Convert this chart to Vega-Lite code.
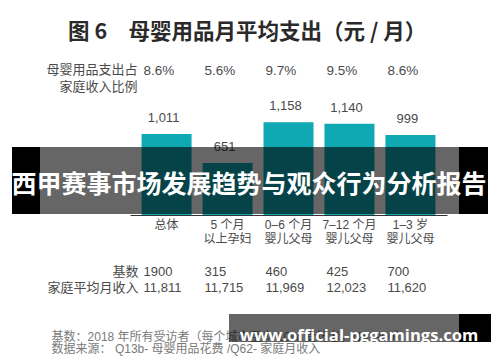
{
  "$schema": "https://vega.github.io/schema/vega-lite/v6.json",
  "width": 317,
  "height": 160,
  "autosize": {"type": "none"},
  "padding": {"left": 130, "top": 55, "right": 53, "bottom": 147},
  "background": "white",
  "title": {
    "text": "图 6\u2003母婴用品月平均支出（元 / 月）",
    "anchor": "start",
    "frame": "group",
    "dx": -62,
    "dy": -8,
    "font": "Noto Sans CJK SC",
    "fontSize": 21.5,
    "fontWeight": "bold",
    "color": "#2a2a2a"
  },
  "config": {
    "view": {"stroke": null},
    "text": {"font": "Liberation Sans, Noto Sans CJK SC, sans-serif", "fontSize": 13, "color": "#4a4a4a"}
  },
  "data": {
    "values": [
      {"cat": "总体", "spend": 1011, "share": 0.086, "base": 1900, "income": 11811},
      {"cat": "5 个月\n以上孕妇", "spend": 651, "share": 0.056, "base": 315, "income": 11715},
      {"cat": "0–6 个月\n婴儿父母", "spend": 1158, "share": 0.097, "base": 460, "income": 11969},
      {"cat": "7–12 个月\n婴儿父母", "spend": 1140, "share": 0.095, "base": 425, "income": 12023},
      {"cat": "1–3 岁\n婴儿父母", "spend": 999, "share": 0.086, "base": 700, "income": 11620}
    ]
  },
  "encoding": {
    "x": {
      "field": "cat",
      "type": "nominal",
      "sort": null,
      "scale": {"paddingInner": 0.18, "paddingOuter": 0.19},
      "axis": {
        "title": null,
        "labelAngle": 0,
        "ticks": false,
        "domainColor": "#333333",
        "labelFont": "Liberation Sans, Noto Sans CJK SC, sans-serif",
        "labelFontSize": 12,
        "labelColor": "#4a4a4a",
        "labelPadding": 4,
        "labelLineHeight": 14,
        "labelExpr": "split(datum.label, '\\n')"
      }
    }
  },
  "layer": [
    {
      "mark": {"type": "bar", "color": "#0fa9b4"},
      "encoding": {
        "y": {"field": "spend", "type": "quantitative", "scale": {"domain": [0, 1880]}, "axis": null}
      }
    },
    {
      "mark": {"type": "text", "baseline": "middle", "dy": -16, "dx": -3},
      "encoding": {
        "y": {"field": "spend", "type": "quantitative"},
        "text": {"field": "spend", "type": "quantitative", "format": ","}
      }
    },
    {
      "mark": {"type": "text", "align": "left", "baseline": "middle", "dx": -23, "fontSize": 13.5},
      "encoding": {
        "y": {"value": 16},
        "text": {"field": "share", "type": "quantitative", "format": ".1%"}
      }
    },
    {
      "mark": {"type": "text", "align": "left", "baseline": "middle", "dx": -23},
      "encoding": {
        "y": {"value": 217},
        "text": {"field": "base", "type": "quantitative", "format": "d"}
      }
    },
    {
      "mark": {"type": "text", "align": "left", "baseline": "middle", "dx": -23},
      "encoding": {
        "y": {"value": 233},
        "text": {"field": "income", "type": "quantitative", "format": ","}
      }
    },
    {
      "data": {"values": [{"cat": "总体", "t": "母婴用品支出占\n家庭收入比例"}]},
      "mark": {"type": "text", "align": "right", "baseline": "top", "dx": -29, "lineBreak": "\n", "lineHeight": 17},
      "encoding": {"y": {"value": 9}, "text": {"field": "t"}}
    },
    {
      "data": {"values": [{"cat": "总体", "t": "基数"}]},
      "mark": {"type": "text", "align": "right", "baseline": "middle", "dx": -28},
      "encoding": {"y": {"value": 217}, "text": {"field": "t"}}
    },
    {
      "data": {"values": [{"cat": "总体", "t": "家庭平均月收入"}]},
      "mark": {"type": "text", "align": "right", "baseline": "middle", "dx": -28},
      "encoding": {"y": {"value": 233}, "text": {"field": "t"}}
    },
    {
      "data": {"values": [{"cat": "总体", "t": "基数：2018 年所有受访者（每个城市至少 10% 受访者，N=1900）\n数据来源： Q13b- 母婴用品花费 /Q62- 家庭月收入"}]},
      "mark": {"type": "text", "align": "left", "baseline": "top", "dx": -115, "lineBreak": "\n", "lineHeight": 12, "fontSize": 12, "color": "#7a7a7a"},
      "encoding": {"y": {"value": 277}, "text": {"field": "t"}}
    },
    {
      "data": {"values": [{"part": "banner"}]},
      "mark": {"type": "rect", "color": "black", "opacity": 0.6},
      "encoding": {"x": {"value": -90}, "x2": {"value": 329}, "y": {"value": 92}, "y2": {"value": 159}}
    },
    {
      "data": {"values": [{"part": "banner-left"}]},
      "mark": {"type": "rect", "color": "black"},
      "encoding": {"x": {"value": -118}, "x2": {"value": -90}, "y": {"value": 92}, "y2": {"value": 159}}
    },
    {
      "data": {"values": [{"part": "banner-right"}]},
      "mark": {"type": "rect", "color": "black"},
      "encoding": {"x": {"value": 329}, "x2": {"value": 358}, "y": {"value": 92}, "y2": {"value": 159}}
    },
    {
      "data": {"values": [{"t": "西甲赛事市场发展趋势与观众行为分析报告"}]},
      "mark": {"type": "text", "align": "center", "baseline": "middle", "font": "Noto Sans CJK SC", "fontSize": 25, "fontWeight": "bold", "color": "white"},
      "encoding": {"x": {"value": 119}, "y": {"value": 130}, "text": {"field": "t"}}
    },
    {
      "data": {"values": [{"part": "mark"}]},
      "mark": {"type": "rect", "color": "black", "opacity": 0.6},
      "encoding": {"x": {"value": 99}, "x2": {"value": 329}, "y": {"value": 259}, "y2": {"value": 287}}
    },
    {
      "data": {"values": [{"part": "mark-right"}]},
      "mark": {"type": "rect", "color": "black"},
      "encoding": {"x": {"value": 329}, "x2": {"value": 361}, "y": {"value": 259}, "y2": {"value": 287}}
    },
    {
      "data": {"values": [{"t": "www.official-pggamings.com"}]},
      "mark": {"type": "text", "align": "center", "baseline": "middle", "font": "Open Sans", "fontSize": 16.6, "fontWeight": "bold", "color": "white"},
      "encoding": {"x": {"value": 229}, "y": {"value": 281}, "text": {"field": "t"}}
    }
  ]
}
